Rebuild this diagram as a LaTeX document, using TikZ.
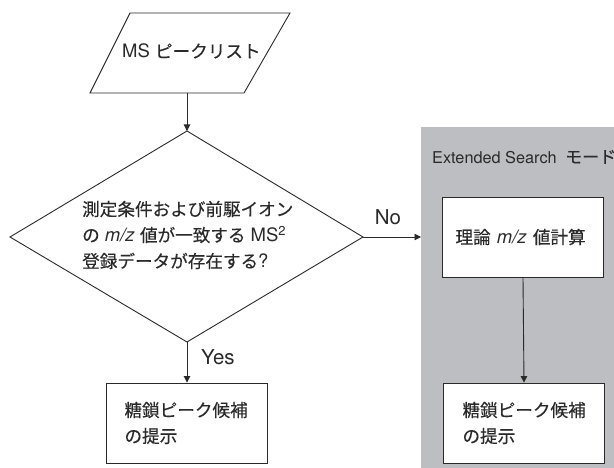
\documentclass[tikz,border=0pt]{standalone}
\usepackage{fontspec}
\setmainfont[Scale=1.05]{TeX Gyre Heros}
\newfontfamily\jp[FakeBold=0.25]{Noto Sans CJK JP}
\usetikzlibrary{arrows.meta}
\definecolor{panelgray}{HTML}{BDBEC2}
\definecolor{ink}{HTML}{2A2A2A}
\tikzset{
  flow/.style={draw=ink, line width=0.9pt, -{Triangle[length=6.5pt,width=6.5pt]}},
  shapeline/.style={draw=ink, line width=0.9pt},
  procbox/.style={draw=ink, line width=0.9pt, fill=white, minimum width=161pt, minimum height=80pt,
    text width=#1, align=left},
  lbl/.style={text=ink, inner sep=0pt},
  biglbl/.style={text=ink, inner sep=0pt, font=\fontsize{19.5}{24}\selectfont},
  modelbl/.style={text=ink, inner sep=0pt, font=\fontsize{15.5}{20}\selectfont},
}
\newcommand{\mz}{\textit{m/z}}
\begin{document}
\begin{tikzpicture}[x=1pt,y=-1pt, font=\fontsize{17.6}{26}\selectfont, text=ink]
\useasboundingbox (0,0) rectangle (614,468);
% gray panel
\fill[panelgray] (421,127) rectangle (614,468);
\node[modelbl, anchor=west] (mode) at (432,157) {Extended Search\hspace{4pt} {\jp\fontsize{17}{20}\selectfont モード}};
% parallelogram input
\draw[shapeline, fill=white] (130,13) -- (290,13) -- (244,93) -- (90,93) -- cycle;
\node[lbl, anchor=west] (input) at (122,51) {MS {\jp ピークリスト}};
\coordinate (inbot) at (187,93);
% diamond
\coordinate (dtop) at (187,131);
\coordinate (dright) at (363,237);
\coordinate (dbot) at (187,342);
\coordinate (dleft) at (10,237);
\draw[shapeline, fill=white] (dtop) -- (dright) -- (dbot) -- (dleft) -- cycle;
\node[lbl, align=left, anchor=west] (cond) at (82,235) {{\jp 測定条件および前駆イオン}\\{\jp の} \mz\ {\jp 値が一致する} MS\textsuperscript{2}\\{\jp 登録データが存在する}?};
% boxes
\node[procbox=125pt, inner xsep=18pt] (res1) at (187,423) {\jp 糖鎖ピーク候補\\の提示};
\node[procbox=135pt, inner xsep=13pt] (calc) at (523,237) {{\jp 理論} \mz\ {\jp 値計算}};
\node[procbox=123pt, inner xsep=19pt] (res2) at (524,423) {\jp 糖鎖ピーク候補\\の提示};
\coordinate (panelin) at (421,237);
% connectors
\draw[flow] (inbot) -- (dtop);
\draw[flow] (dbot) -- (res1.north);
\draw[flow] (dright) -- (panelin);
\draw[flow] (calc.south) -- (res2.north);
\node[biglbl, anchor=west] (yes) at (201,357) {Yes};
\node[biglbl] (no) at (388,217) {No};
\end{tikzpicture}
\end{document}
